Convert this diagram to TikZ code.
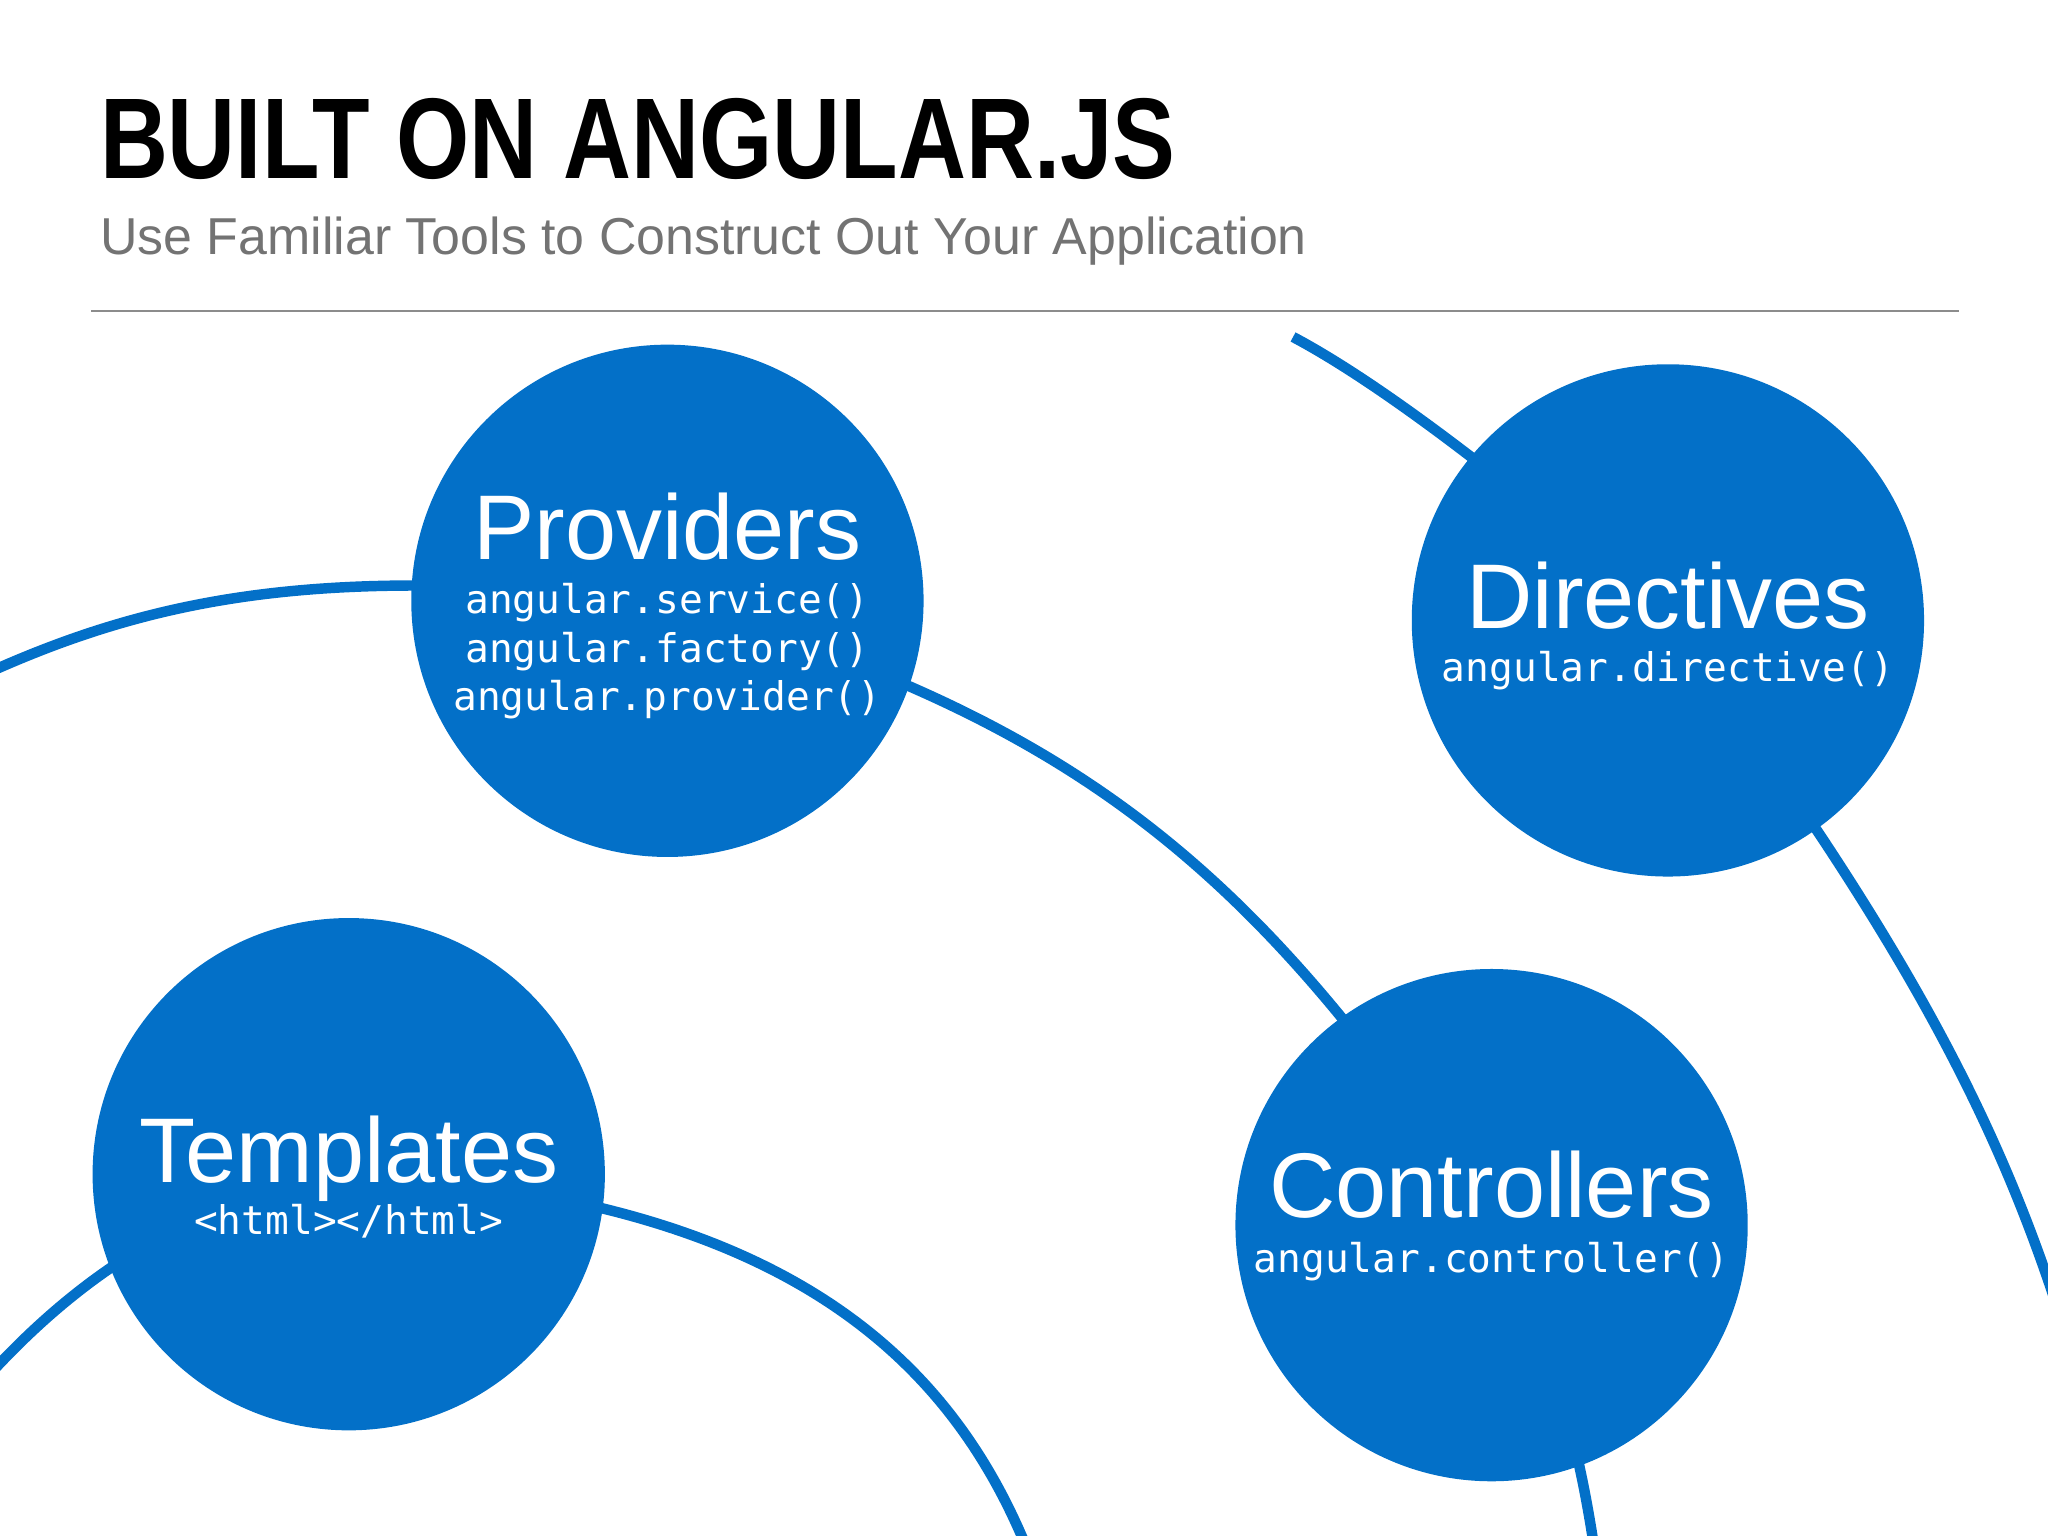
\documentclass[tikz,border=0pt]{standalone}
\usepackage{fontspec}
\setmainfont{Liberation Sans}
\newfontfamily\monof{DejaVu Sans Mono}
\begin{document}
\begin{tikzpicture}[x=0.01cm,y=-0.01cm,
  bub/.style={circle,fill=ngblue,minimum size=3.92cm,inner sep=0pt},
  arcl/.style={draw=ngblue,line width=0.08cm},
  big/.style={text=white,font=\fontsize{20}{22}\selectfont},
  code/.style={text=white,font=\monof\fontsize{8.6}{10.5}\selectfont}]
\definecolor{ngblue}{HTML}{0370C8}
\useasboundingbox (0,0) rectangle (1568,1176);
\clip (0,0) rectangle (1568,1176);
\node[anchor=base west,inner sep=0pt,xscale=0.82,font=\bfseries\fontsize{25}{28}\selectfont] (title) at (76,137) {BUILT ON ANGULAR.JS};
\node[anchor=base west,inner sep=0pt,text=black!55,font=\fontsize{11.3}{13}\selectfont] (sub) at (76,195) {Use Familiar Tools to Construct Out Your Application};
\draw[black!45,line width=0.4pt] (70,238) coordinate (r1) -- (1500,238) coordinate (r2);
\coordinate (P) at (511,460);
\coordinate (D) at (1277,475);
\coordinate (T) at (267,899);
\coordinate (C) at (1142,938);
\coordinate (a0) at (-20,520);
\coordinate (d0) at (990,258);
\coordinate (d1) at (1578,1010);
\coordinate (c1) at (1222,1195);
\coordinate (t1) at (790,1195);
\coordinate (t0) at (-15,1060);
\draw[arcl] (a0) .. controls (120,455) and (250,432) .. (P);
\draw[arcl] (P) .. controls (820,550) and (960,660) .. (C);
\draw[arcl] (C) .. controls (1190,1030) and (1210,1110) .. (c1);
\draw[arcl] (d0) .. controls (1060,295) and (1170,380) .. (D);
\draw[arcl] (D) .. controls (1460,720) and (1530,860) .. (d1);
\draw[arcl] (T) .. controls (600,915) and (730,1040) .. (t1);
\draw[arcl] (T) .. controls (120,920) and (30,1010) .. (t0);
\node[bub] (prov) at (P) {};
\node[bub] (dir) at (D) {};
\node[bub] (tpl) at (T) {};
\node[bub] (ctl) at (C) {};
\node[big,anchor=base] (pt) at (511,428) {Providers};
\node[code,anchor=base] (p1) at (511,470) {angular.service()};
\node[code,anchor=base] (p2) at (511,507) {angular.factory()};
\node[code,anchor=base] (p3) at (511,544) {angular.provider()};
\node[big,anchor=base] (dt) at (1277,481) {Directives};
\node[code,anchor=base] (d2) at (1277,522) {angular.directive()};
\node[big,anchor=base] (tt) at (267,905) {Templates};
\node[code,anchor=base] (t2) at (267,945) {<html></html>};
\node[big,anchor=base] (ct) at (1142,932) {Controllers};
\node[code,anchor=base] (c2) at (1142,974) {angular.controller()};
\end{tikzpicture}
\end{document}
